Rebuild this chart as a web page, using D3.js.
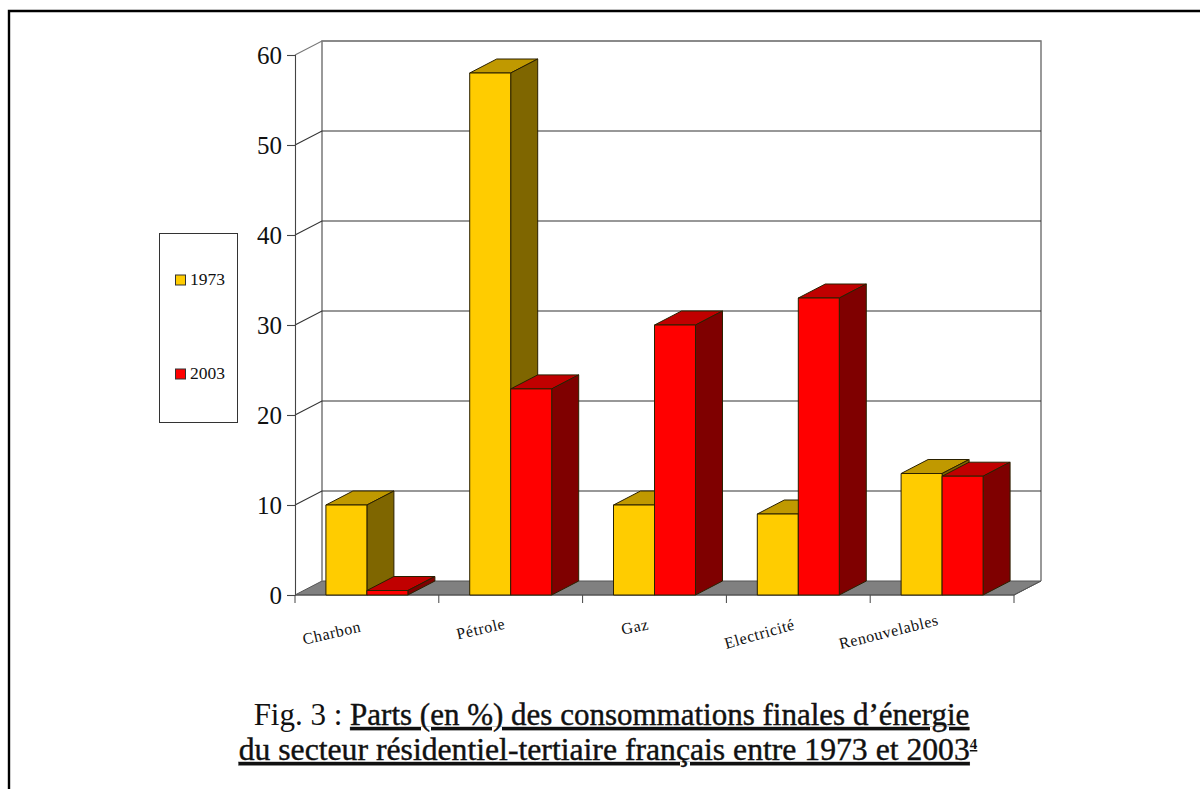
<!DOCTYPE html>
<html><head><meta charset="utf-8">
<script src="https://cdn.jsdelivr.net/npm/d3@7"></script>
<style>html,body{margin:0;background:#fff}svg{display:block}text{font-family:"Liberation Serif",serif;fill:#111}</style>
</head><body><svg id="c" width="1200" height="789"></svg>
<script>
const categories=["Charbon","Pétrole","Gaz","Electricité","Renouvelables"];
const seriesNames=["1973","2003"];
const values1973=[10,58,10,9,13.5];
const values2003=[0.5,22.9,30,33,13.2];
const yTicks=[0,10,20,30,40,50,60];
const frontColors=["#ffcc00","#ff0000"];
const topColors=["#c09900","#c00000"];
const sideColors=["#7f6600","#7f0000"];

const svg=d3.select("#c");
const DX=27,DY=-14;
const y=d3.scaleLinear().domain([0,60]).range([595,55]);
const x0=d3.scaleBand().domain(categories).range([295,1014]);
const x1=d3.scaleBand().domain(seriesNames).range([0,x0.bandwidth()]).paddingInner(0).paddingOuter(0.754);
const path=p=>"M"+p.map(q=>q.join(",")).join("L")+"Z";

// frame: top and left rules only
svg.append("path").attr("d","M1200,11H9V789").attr("fill","none").attr("stroke","#000").attr("stroke-width",2.4);

// walls and floor
const xL=x0.range()[0],xR=x0.range()[1],y0=y(0),yT=y(60);
svg.append("path").attr("d",path([[xL,y0],[xL+DX,y0+DY],[xR+DX,y0+DY],[xR,y0]])).attr("fill","#808080").attr("stroke","#555");
svg.append("path").attr("d",`M${xL+DX},${y0+DY}V${yT+DY}H${xR+DX}V${y0+DY}`).attr("fill","none").attr("stroke","#808080").attr("stroke-width",1.6);
svg.append("line").attr("x1",xR).attr("x2",xR+DX).attr("y1",y0).attr("y2",y0+DY).attr("stroke","#555");

// gridlines
yTicks.filter(t=>t>0).forEach(t=>{
  svg.append("path").attr("d",`M${xL},${y(t)}L${xL+DX},${y(t)+DY}H${xR+DX}`).attr("fill","none")
    .attr("stroke",t===60?"#777":"#333").attr("stroke-width",1.1);
});

// axes
const ax=d3.axisLeft(y).tickValues(yTicks).tickSize(8).tickPadding(5);
const gy=svg.append("g").attr("transform",`translate(${xL},0)`).call(ax);
gy.selectAll("path,line").attr("stroke","#444").attr("stroke-width",1.1);
gy.selectAll("text").attr("font-size",25).attr("fill","#111").attr("dy","0.33em");
const catTicks=x0.domain().map(c=>x0(c)).concat([xR]);
svg.append("g").selectAll("line").data(catTicks).join("line")
  .attr("x1",d=>d).attr("x2",d=>d).attr("y1",y0).attr("y2",y0+8).attr("stroke","#444");
svg.append("line").attr("x1",xL).attr("x2",xR).attr("y1",y0).attr("y2",y0).attr("stroke","#555");

// bars
const BARS=[values1973,values2003];
categories.forEach((c,i)=>{
  seriesNames.forEach((s,k)=>{
    const v=BARS[k][i],xa=x0(c)+x1(s),xb=xa+x1.bandwidth(),yt=y(v),g=svg.append("g").attr("stroke","#2a2000").attr("stroke-width",1).attr("stroke-linejoin","round");
    g.append("path").attr("d",path([[xa,yt],[xa+DX,yt+DY],[xb+DX,yt+DY],[xb,yt]])).attr("fill",topColors[k]);
    g.append("path").attr("d",path([[xb,yt],[xb+DX,yt+DY],[xb+DX,y0+DY],[xb,y0]])).attr("fill",sideColors[k]);
    g.append("rect").attr("x",xa).attr("y",yt).attr("width",xb-xa).attr("height",y0-yt).attr("fill",frontColors[k]);
  });
});

// category labels
const labelPos=[[333,638],[482,634],[636,632],[761,639],[890,637]];
const labelRot=[-13,-13,-12,-16,-14];
categories.forEach((c,i)=>{
  svg.append("text").attr("text-anchor","middle").attr("font-size",16).attr("letter-spacing",0.6)
    .attr("transform",`translate(${labelPos[i][0]},${labelPos[i][1]}) rotate(${labelRot[i]})`).text(c);
});

// legend
svg.append("rect").attr("x",159.5).attr("y",233.5).attr("width",78).attr("height",189).attr("fill","#fff").attr("stroke","#333");
const legY=d3.scalePoint().domain(seriesNames).range([280,374]);
seriesNames.forEach((s,k)=>{
  svg.append("rect").attr("x",175.5).attr("y",legY(s)-5).attr("width",10).attr("height",10).attr("fill",frontColors[k]).attr("stroke","#333");
  svg.append("text").attr("x",190).attr("y",legY(s)+5).attr("font-size",17.5).text(s);
});

// caption
const cap1=svg.append("text").attr("x",611.5).attr("y",725).attr("text-anchor","middle").attr("font-size",31);
cap1.append("tspan").text("Fig. 3 : ");
cap1.append("tspan").attr("text-decoration","underline").attr("stroke","#111").attr("stroke-width",0.4).text("Parts (en %) des consommations finales d’énergie");
const cap2=svg.append("text").attr("x",608).attr("y",760).attr("text-anchor","middle").attr("font-size",31.7);
cap2.append("tspan").attr("text-decoration","underline").attr("stroke","#111").attr("stroke-width",0.4).text("du secteur résidentiel-tertiaire français entre 1973 et 2003");
cap2.append("tspan").attr("text-decoration","underline").attr("font-size",15).attr("dy",-11).attr("font-weight","bold").text("4");
</script></body></html>
